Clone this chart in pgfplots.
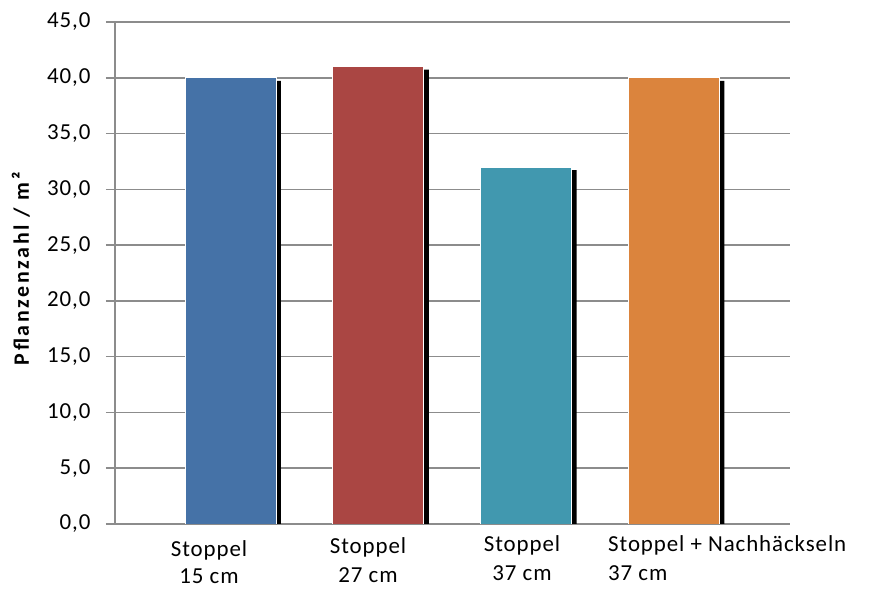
\documentclass[border=0pt]{standalone}
\usepackage{fontspec}
\setmainfont{Carlito}[LetterSpace=4]
\newfontfamily\ylabfont{Carlito}[LetterSpace=12]
\usepackage{pgfplots}
\pgfplotsset{compat=1.18}
\definecolor{c1}{HTML}{4572A7}
\definecolor{c2}{HTML}{AA4643}
\definecolor{c3}{HTML}{4198AF}
\definecolor{c4}{HTML}{DB843D}
\definecolor{gridgray}{HTML}{8C8C8C}
\begin{document}
\begin{tikzpicture}
\begin{axis}[
  scale only axis, width=675bp, height=502bp,
  xmin=-0.781, xmax=3.785, ymin=0, ymax=45,
  ytick={0,5,...,45},
  xtick=\empty,
  axis x line*=bottom, axis y line*=left,
  axis line style={gridgray, line width=1.5bp, -},
  ymajorgrids, grid style={gridgray, line width=1.5bp},
  tick align=outside, major tick length=9bp,
  ytick style={gridgray, line width=1.5bp},
  yticklabel style={font=\fontsize{23}{27}\selectfont, xshift=-12bp, /pgf/number format/.cd, fixed, fixed zerofill, precision=1, use comma, assume math mode=true},
  ylabel={Pflanzenzahl / m²},
  ylabel style={font=\ylabfont\bfseries\fontsize{22}{26}\selectfont, at={(rel axis cs:-0.1393,0.508)}, anchor=center},
  ybar, bar width=0.616,
  clip=true,
]
\addplot[fill=black, draw=none, bar shift=0pt, xshift=5bp, yshift=-3bp] coordinates {(0,40.0) (1,41.0) (2,32.0) (3,40.0)};
\addplot[fill=c1, draw=white, line width=0.8bp, bar shift=0pt] coordinates {(0,40.0)};
\addplot[fill=c2, draw=white, line width=0.8bp, bar shift=0pt] coordinates {(1,41.0)};
\addplot[fill=c3, draw=white, line width=0.8bp, bar shift=0pt] coordinates {(2,32.0)};
\addplot[fill=c4, draw=white, line width=0.8bp, bar shift=0pt] coordinates {(3,40.0)};
\end{axis}
\begin{scope}[every node/.style={font=\fontsize{23}{27}\selectfont, inner sep=0pt}]
\node at (209bp-115bp, -26bp) {Stoppel};
\node at (209bp-115bp, -52bp) {15 cm};
\node at (368bp-115bp, -23bp) {Stoppel};
\node at (368bp-115bp, -51bp) {27 cm};
\node at (522bp-115bp, -21bp) {Stoppel};
\node at (522bp-115bp, -49bp) {37 cm};
\node[anchor=west] at (608bp-115bp, -21bp) {Stoppel + Nachhäckseln};
\node[anchor=west] at (608bp-115bp, -49bp) {37 cm};
\end{scope}
\pgfresetboundingbox
\path[use as bounding box] (-115bp,-65bp) rectangle (770bp,524bp);
\end{tikzpicture}
\end{document}
